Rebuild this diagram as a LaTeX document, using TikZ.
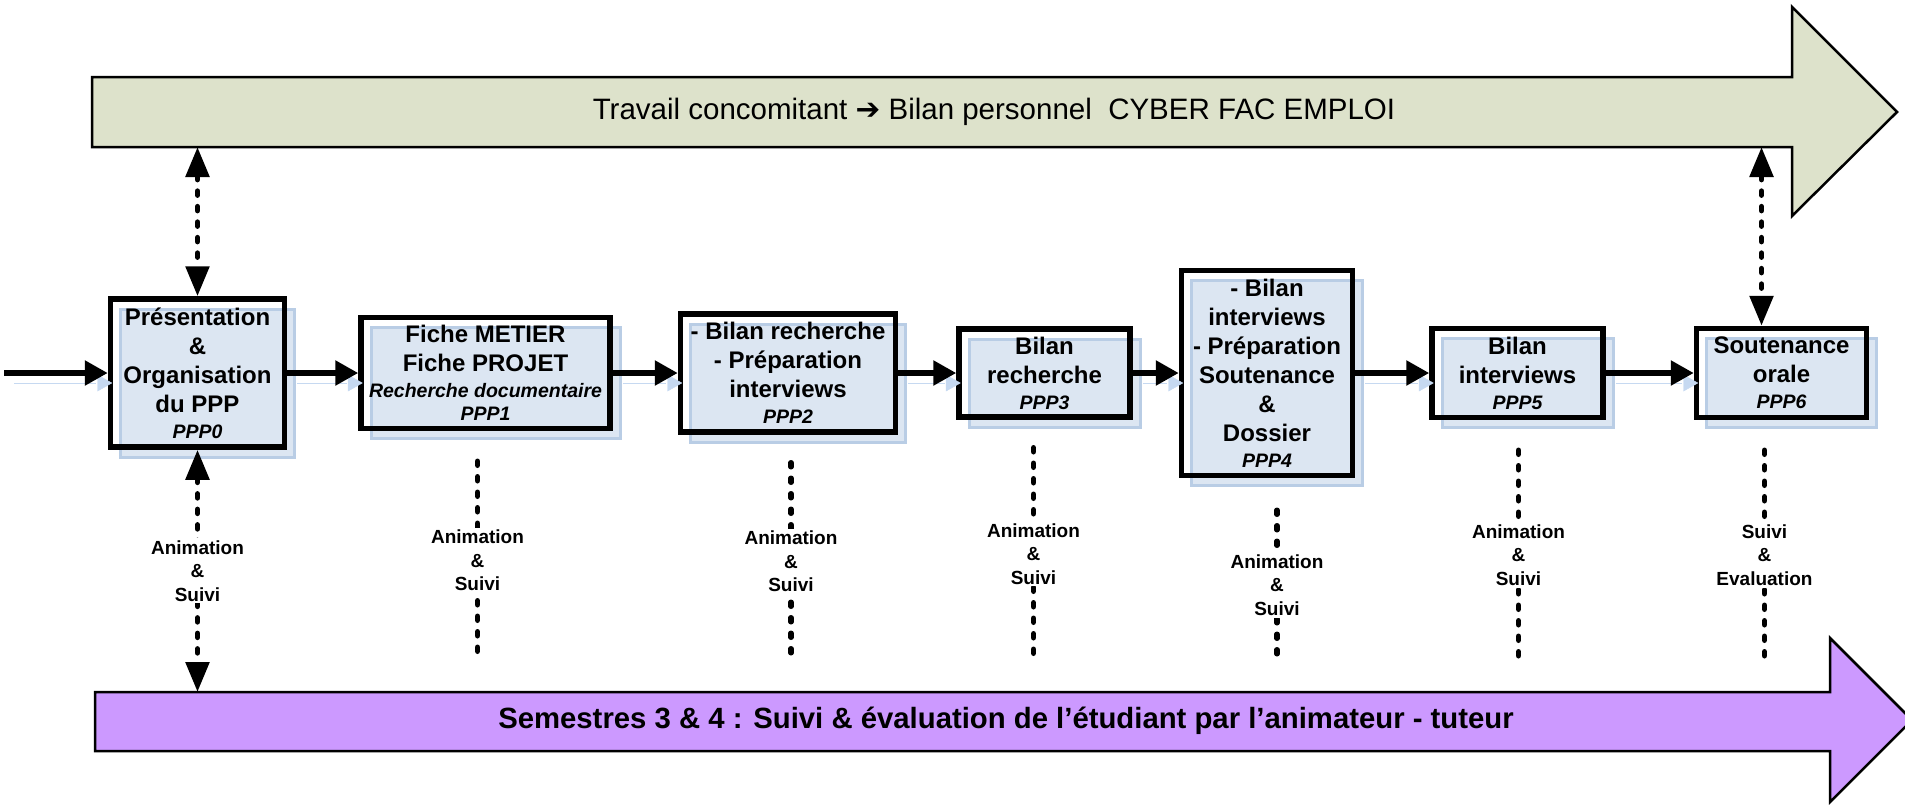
\documentclass[tikz,border=0pt]{standalone}
\usepackage{fontspec}
\setmainfont{Liberation Sans}
\newfontfamily\symb{DejaVu Sans}
\usetikzlibrary{arrows.meta, shadows, calc}
\definecolor{vertgris}{HTML}{DDE2CB}
\definecolor{violet1}{HTML}{CC99FF}
\definecolor{bleubox}{HTML}{DCE6F2}
\definecolor{bleubord}{HTML}{B9CDE5}
\definecolor{ombre}{HTML}{C6D9F1}
\newcommand{\ppp}[1]{{\itshape\fontsize{19.5}{23}\selectfont #1}}
\tikzstyle{etape}=[draw, line width=5.5pt, align=center, inner sep=0pt,
    font=\bfseries\fontsize{24}{29}\selectfont,
    general shadow={fill=bleubox, draw=bleubord, line width=3pt,
    shadow xshift=10pt, shadow yshift=-10pt}]
\tikzstyle{bandeau}=[draw, line width=2.5pt, line join=miter]
\tikzstyle{fleche}=[line width=5.5pt, -{Triangle[length=23pt,width=24pt]},
    preaction={draw=ombre, transform canvas={xshift=10pt,yshift=-10pt}}]
\tikzstyle{pointille}=[line width=5.5pt, dash pattern=on 4pt off 11.5pt, line cap=round]
\tikzstyle{doublefleche}=[{Triangle[length=30pt,width=23pt]}-{Triangle[length=30pt,width=23pt]}]
\tikzstyle{suivi}=[fill=white, align=center, inner sep=2pt,
    font=\bfseries\fontsize{19}{23.5}\selectfont]

\begin{document}
\begin{tikzpicture}[x=1pt,y=-1pt]
    \useasboundingbox (0,0) rectangle (1905,804);
    \draw[bandeau, fill=vertgris] (92,77) -- (1792,77) -- (1792,7) -- (1897,112)
        -- (1792,216) -- (1792,147) -- (92,147) -- cycle;
    \node (travail) at (994,112) [font=\fontsize{29.5}{34}\selectfont]
        {Travail concomitant {\symb\bfseries ➔} Bilan personnel\ \ CYBER FAC EMPLOI};
    \draw[bandeau, fill=violet1] (95,692) -- (1830,692) -- (1830,638) -- (1912,720)
        -- (1830,802) -- (1830,751) -- (95,751) -- cycle;
    \node (semestres) at (1006,721) [font=\bfseries\fontsize{29.3}{34}\selectfont]
        {Semestres 3 \& 4 : Suivi \& évaluation de l’étudiant par l’animateur - tuteur};
    \coordinate (haut) at (0,147);
    \coordinate (bas) at (0,692);
    \coordinate (fin) at (0,660);
    \coordinate (entree) at (4,373);

    \node (p0) at (197.5,373) [etape, minimum width=174pt, minimum height=148pt]
        {Présentation\\\&\\Organisation\\du PPP\\[-3pt]\ppp{PPP0}};
    \path (p0.east)+(71,0) node (p1) [etape, anchor=west, minimum width=249pt, minimum height=111pt]
        {Fiche METIER\\Fiche PROJET\\[-3pt]\ppp{Recherche documentaire}\\[-6pt]\ppp{PPP1}};
    \path (p1.east)+(65,0) node (p2) [etape, anchor=west, minimum width=215pt, minimum height=118pt]
        {- Bilan recherche\\- Préparation\\interviews\\[-3pt]\ppp{PPP2}};
    \path (p2.east)+(58,0) node (p3) [etape, anchor=west, minimum width=171pt, minimum height=88pt]
        {Bilan\\recherche\\[-3pt]\ppp{PPP3}};
    \path (p3.east)+(46,0) node (p4) [etape, anchor=west, minimum width=171pt, minimum height=205pt]
        {- Bilan\\interviews\\- Préparation\\Soutenance\\\&\\Dossier\\[-3pt]\ppp{PPP4}};
    \path (p4.east)+(74,0) node (p5) [etape, anchor=west, minimum width=171pt, minimum height=89pt]
        {Bilan\\interviews\\[-3pt]\ppp{PPP5}};
    \path (p5.east)+(88,0) node (p6) [etape, anchor=west, minimum width=170pt, minimum height=89pt]
        {Soutenance\\orale\\[-3pt]\ppp{PPP6}};

    \draw[fleche] (entree) -- (p0);
    \draw[fleche] (p0) -- (p1);
    \draw[fleche] (p1) -- (p2);
    \draw[fleche] (p2) -- (p3);
    \draw[fleche] (p3) -- (p4);
    \draw[fleche] (p4) -- (p5);
    \draw[fleche] (p5) -- (p6);

    \coordinate (p6n) at ([xshift=-20pt]p6.north);
    \draw[pointille, doublefleche] (haut -| p0) -- (p0);
    \draw[pointille, doublefleche] (haut -| p6n) -- (p6n);
    \draw[pointille, doublefleche] (p0) -- node[suivi] {Animation\\\&\\Suivi} (bas -| p0);

    \coordinate (c1) at ([xshift=-8pt,yshift=-30pt]p1.south);
    \coordinate (c2) at ([xshift=3pt,yshift=-28pt]p2.south);
    \coordinate (c3) at ([xshift=-11pt,yshift=-28pt]p3.south);
    \coordinate (c4) at ([xshift=10pt,yshift=-32pt]p4.south);
    \coordinate (c5) at ([xshift=1pt,yshift=-30pt]p5.south);
    \coordinate (c6) at ([xshift=-17pt,yshift=-30pt]p6.south);
    \draw[pointille] (c1) -- node[suivi] {Animation\\\&\\Suivi} (c1 |- fin);
    \draw[pointille] (c2) -- node[suivi] {Animation\\\&\\Suivi} (c2 |- fin);
    \draw[pointille] (c3) -- node[suivi] {Animation\\\&\\Suivi} (c3 |- fin);
    \draw[pointille] (c4) -- node[suivi] {Animation\\\&\\Suivi} (c4 |- fin);
    \draw[pointille] (c5) -- node[suivi] {Animation\\\&\\Suivi} (c5 |- fin);
    \draw[pointille] (c6) -- node[suivi] {Suivi\\\&\\Evaluation} (c6 |- fin);
\end{tikzpicture}
\end{document}
